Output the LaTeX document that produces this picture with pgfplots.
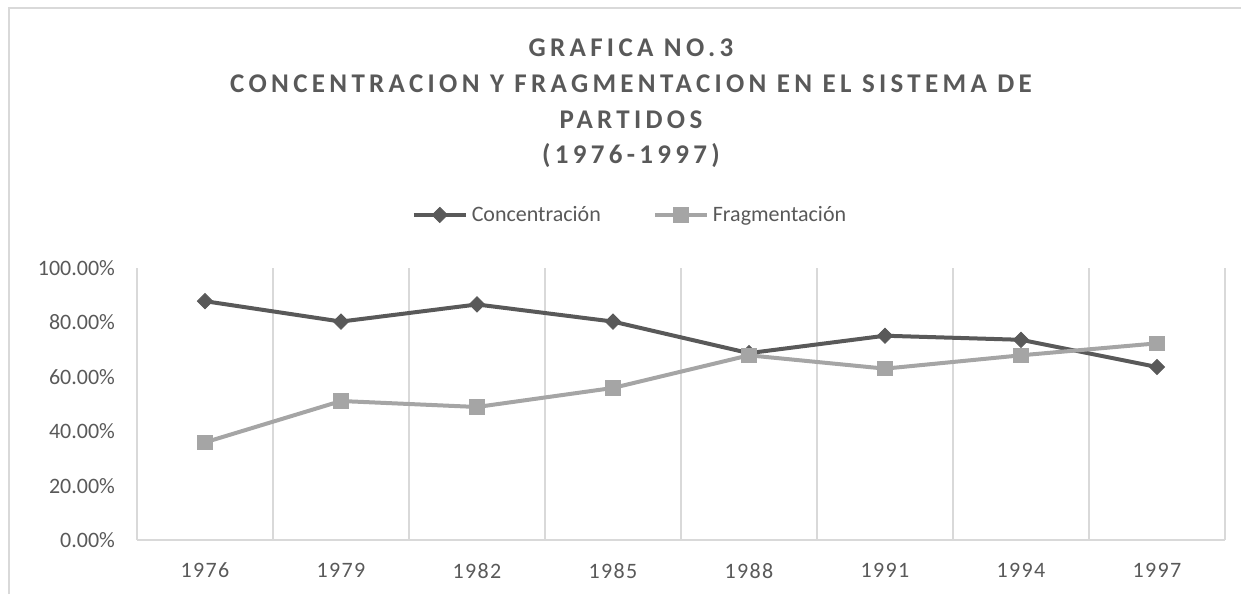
\documentclass[border=0pt]{standalone}
\usepackage{pgfplots}
\pgfplotsset{compat=1.18}
\usepackage{fontspec}
\setmainfont{Carlito}
\newfontfamily\titlefont[LetterSpace=16]{Carlito}
\newfontfamily\tickfont[LetterSpace=6]{Carlito}
\definecolor{conc}{HTML}{595959}
\definecolor{frag}{HTML}{A5A5A5}
\definecolor{gridc}{HTML}{D9D9D9}
\definecolor{txt}{HTML}{595959}

\begin{document}
\begin{tikzpicture}
\path[use as bounding box] (0pt,0pt) rectangle (620.5pt,297pt);
\draw[gridc, line width=0.75pt] (4.5pt,0pt) -- (4.5pt,293pt) -- (620.5pt,293pt);
% title, one node per line
\begin{scope}[every node/.style={font=\titlefont\bfseries\fontsize{13.5}{16}\selectfont, text=txt}]
\node at (315.5pt,273pt) {GRAFICA NO.3};
\node at (315.5pt,255pt) {CONCENTRACION Y FRAGMENTACION EN EL SISTEMA DE};
\node at (315.5pt,237pt) {PARTIDOS};
\node at (315.5pt,219pt) {(1976-1997)};
\end{scope}
\begin{axis}[
    at={(68.5pt,27pt)}, anchor=south west,
    scale only axis, width=544pt, height=136pt,
    xmin=-0.5, xmax=7.5, ymin=0, ymax=100,
    xtick={0,...,7},
    xticklabels={1976,1979,1982,1985,1988,1991,1994,1997},
    minor xtick={-0.5,0.5,...,7.5},
    xminorgrids,
    minor grid style={gridc, line width=0.75pt},
    ytick={0,20,...,100},
    yticklabels={0.00\%,20.00\%,40.00\%,60.00\%,80.00\%,100.00\%},
    axis x line*=bottom, axis y line*=left,
    x axis line style={gridc, line width=0.75pt, -},
    y axis line style={draw=none},
    tick style={draw=none}, major tick length=0pt,
    xticklabel style={font=\tickfont\fontsize{11}{13}\selectfont, text=txt},
    yticklabel style={font=\fontsize{11}{13}\selectfont, text=txt},
    xticklabel shift=8pt, yticklabel shift=7.5pt,
    clip=false,
    legend columns=2,
    legend style={at={(0.454,1.195)}, anchor=center, draw=none, fill=none,
        font=\fontsize{11}{13}\selectfont, text=txt,
        /tikz/every even column/.append style={column sep=24pt}},
    legend image code/.code={\draw[mark repeat=2,mark phase=2] plot coordinates {(0pt,0pt)(13pt,0pt)(26pt,0pt)};},
]
\addplot[conc, line width=2pt, mark=square*, mark size=2.7pt,
    mark options={solid, rotate=45, fill=conc, line width=0.4pt}]
    coordinates {(0,87.8) (1,80.3) (2,86.6) (3,80.3) (4,68.7) (5,75.1) (6,73.6) (7,63.6)};
\addlegendentry{Concentración}
\addplot[frag, line width=2pt, mark=square*, mark size=3.6pt,
    mark options={solid, fill=frag, line width=0.4pt}]
    coordinates {(0,35.9) (1,51.1) (2,48.9) (3,55.9) (4,67.9) (5,63.0) (6,67.9) (7,72.3)};
\addlegendentry{Fragmentación}
\end{axis}
\end{tikzpicture}
\end{document}
